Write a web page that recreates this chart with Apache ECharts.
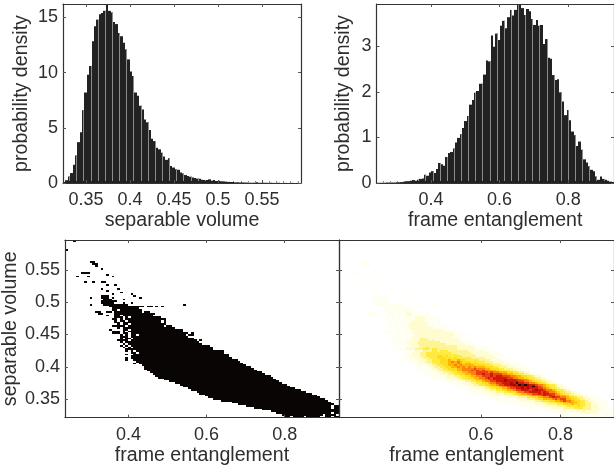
<!DOCTYPE html>
<html><head><meta charset="utf-8">
<style>html,body{margin:0;padding:0;background:#fff}#c{width:614px;height:470px}</style>
<script src="https://cdn.jsdelivr.net/npm/echarts@6/dist/echarts.min.js"></script>
</head><body><div id="c"></div>
<script>
var separableDensity=[0.1,0.25,0.6,0.9,1.65,2.5,3.7,4.6,6.6,8.2,9.8,10.6,12.85,14.2,14.8,15.3,15.4,15.6,16.3,15.6,15.45,14.6,14.4,13.6,13.3,12.7,12.1,11.2,10.1,9.7,8.2,7.9,7.0,6.65,5.75,5.5,4.8,4.0,3.8,3.2,3.05,2.75,2.4,2.1,2.25,1.55,1.4,1.25,1.2,0.95,0.85,0.72,0.63,0.57,0.5,0.45,0.4,0.38,0.3,0.27,0.27,0.33,0.2,0.27,0.18,0.2,0.15,0.15,0.12,0.1,0.08,0.08,0.06,0.06,0.05,0.05,0.04,0.04,0.03,0.03,0.03,0.06,0.02,0.02,0.02,0.02,0.01,0.02,0.01,0.01,0.02,0.01,0.01,0.01,0.01,0.01,0.01,0.01,0.01,0.01];
var entanglementDensity=[0.005,0.005,0.005,0.005,0.01,0.01,0.01,0.01,0.015,0.015,0.02,0.03,0.04,0.04,0.05,0.065,0.05,0.07,0.09,0.1,0.18,0.16,0.23,0.26,0.22,0.31,0.44,0.41,0.38,0.57,0.66,0.68,0.76,0.89,0.99,1.07,1.21,1.36,1.47,1.72,1.82,1.98,2.02,2.18,2.18,2.38,2.69,2.67,3.24,2.99,3.28,3.14,3.45,3.56,3.4,3.64,3.8,3.68,3.8,3.92,3.92,3.84,3.69,3.82,3.77,3.6,3.47,3.58,3.45,3.47,3.05,3.16,2.75,2.73,2.37,2.26,2.28,1.99,1.79,1.49,1.6,1.38,1.13,1.05,0.81,0.91,0.73,0.52,0.45,0.37,0.29,0.26,0.14,0.07,0.14,0.09,0.07,0.05,0.03,0.02];
// joint histogram runs: [row, first column, levels]; "." = empty bin
var jointRuns=[
[0,80,"00.0000.00000..00.00"],[1,79,"000000000000000.0000."],[2,77,"00000000001111110000.00"],
[3,75,"0000001011111211111000000"],[4,72,"0000000001111122222111100000"],[5,69,"0000000011112222333222111000.00"],
[6,66,"0000000011111222333343322111000.00"],[7,63,"00000000111122223344454433221100000"],[8,61,"000000001111122333445565543322110000"],
[9,57,"000000000111112233344556766544332110000"],[10,54,"00000000001111222344555676775544322110000"],[11,52,"00000000011112223344556678776654432211000"],
[12,51,"00000001111222334456667878766554322110000"],[13,49,"00000001111222344556677878877654332211000"],[14,48,"0000001112223344566778888787665433221100"],
[15,46,"0000001112233445567788878988766543321100"],[16,45,"000001112233445567788989888776543321100"],[17,43,"000001111223344566778889898a87654332110"],
[18,42,"00001112233445567788998a9a9887665433211"],[19,40,"000001112233445667788898a88776654332110"],[20,38,"0000011122334456677888988887766543322110"],
[21,36,"00000111223334556677888898887766543322110"],[22,34,"000001111223344556678788888776655443322110"],[23,33,"000000111223344556677787887776655443321100"],
[24,32,"00000111223344556677877877766554433221100"],[25,31,"00000112223344556667777676655544332211000"],[26,30,"0000011223344556667676766554433322110000"],
[27,29,"0000011223344455666676665544433222111000"],[28,29,"000011223344556565656555444332221110000"],[29,28,"00001122334455656555544443332221110000"],
[30,25,"0.00011122334445556545544433332221110000"],[31,26,"00011122333444565654443433322211110000"],[32,22,"0..00001112233344454454433333222211110000"],
[33,22,"0.0000111223334443434333332222211110000"],[34,24,"000111223333443433333222221111110000"],[35,22,"0..00111223333333333322222211111100000"],
[36,24,"00.1112233333333322222221111110000"],[37,22,"0.0.00111222332333222222211111100000"],[38,22,"00011122233233222222211111110000"],
[39,21,"0.0.11112223222222222211111100000"],[40,20,"0.0.00011122222222222221111110000"],[41,21,"0.000111222222222211111110000"],
[42,20,"0.000111122222222111111100000."],[43,19,"0000.000111222121111111110000.0"],[44,20,"0.00.0011122111111111110000."],
[45,20,"000.000111111111111110000."],[46,20,"0.0.00.01111111111111100.00"],[47,17,"000.00.000111111111111111000.0"],
[48,17,"000.0.00001111111111110000.."],[49,16,"0....00.0001111111111100000"],[50,19,"0.0000011111111100000"],
[51,17,"00000.0001111111000.00"],[52,19,"0.00.0011111100000"],[53,18,"00.00000111111100.0"],
[54,18,"0.00.000011110000.0"],[55,17,"00.0.000000111100000"],[56,18,"000.0.00001110000"],
[57,15,"0..00.00001100000"],[58,12,"00....000000011000000"],[59,11,"00..00.0000000100.00"],
[60,17,"00.00000000"],[61,17,"0000000000"],[62,16,"0000000000000.00.0.0"],
[63,9,"0"],[63,14,"000000000"],[63,43,"0"],[64,13,"00000...0..0"],[65,13,"000000"],[66,14,"000"],[66,21,"0"],
[67,9,"0"],[67,13,"000.0"],[67,27,"0"],[68,13,"000"],[68,25,"0"],[69,17,"0"],[69,24,"0"],
[70,20,"0"],[71,15,"0"],[72,13,"0"],[72,19,"0"],[74,15,"0"],[74,18,"0"],
[76,7,"0..0..00"],[79,4,"0...0"],[79,17,"0"],[80,15,"0"],[81,6,"000"],[83,13,"0"],
[85,11,"0"],[86,10,"00"],[87,9,"00"],[94,0,"0"],[99,3,"0"]
];
var hotLevels=['#fffff0','#fffcd2','#fff492','#ffea40','#ffdc1e','#ffb600','#fb8210','#ec4210','#d01a08','#a80a05','#1a0000'];
var sepTicks=[0.35,0.4,0.45,0.5,0.55], entTicksA=[0.4,0.6,0.8], entTicksB=[0.6,0.8];
var densTicksA=[0,5,10,15], densTicksB=[0,1,2,3], sepYTicks=[0.35,0.4,0.45,0.5,0.55];
var xName1='separable volume', xName2='frame entanglement', yName1='probability density';

var FONT='"Liberation Sans",Helvetica,Arial,sans-serif', TXT='#2e2e2e', LINE='#333', TICKF=18, NAMEF=19.6;
var grids=[
 {left:63,top:4,width:238,height:179},
 {left:376.5,top:4,width:237.5,height:179},
 {left:63.5,top:240,width:275.5,height:177.6},
 {left:339,top:240,width:275,height:177.6}
];
function axisPair(idx,xMin,xMax,yMin,yMax,xTicks,yTicks,xName,yName,yGap){
  var inv={show:true,inside:true,length:3,lineStyle:{color:'#555',width:1}};
  function tick(v){return Object.assign({},inv,{customValues:v});}
  var line={show:true,onZero:false,lineStyle:{color:LINE,width:1.2}};
  var none={show:false};
  var xs=[{type:'value',gridIndex:idx,position:'bottom',min:xMin,max:xMax,z:5,splitLine:none,axisLine:line,
    axisTick:tick(xTicks),axisLabel:{show:true,customValues:xTicks,margin:8,fontFamily:FONT,fontSize:TICKF,color:TXT,hideOverlap:false},
    name:xName,nameLocation:'middle',nameGap:28,nameTextStyle:{fontFamily:FONT,fontSize:NAMEF,color:TXT}},
   {type:'value',gridIndex:idx,position:'top',min:xMin,max:xMax,z:5,splitLine:none,axisLine:line,axisTick:tick(xTicks),axisLabel:none}];
  var ys=[{type:'value',gridIndex:idx,position:'left',min:yMin,max:yMax,z:5,splitLine:none,axisLine:line,axisTick:tick(yTicks),
    axisLabel:yName?{show:true,customValues:yTicks,margin:5,fontFamily:FONT,fontSize:TICKF,color:TXT,hideOverlap:false}:none,
    name:yName||'',nameLocation:'middle',nameGap:yGap,nameTextStyle:{fontFamily:FONT,fontSize:NAMEF,color:TXT}},
   {type:'value',gridIndex:idx,position:'right',min:yMin,max:yMax,z:5,splitLine:none,axisLine:line,axisTick:tick(yTicks),axisLabel:none}];
  return {xs:xs,ys:ys};
}
var A=[
 axisPair(0,0.3239,0.5943,0,16.22,sepTicks,densTicksA,xName1,yName1,31),
 axisPair(1,0.2411,0.9335,0,3.93,entTicksA,densTicksB,xName2,yName1,23),
 axisPair(2,0.2375,0.939,0.3217,0.596,entTicksA,sepYTicks,xName2,xName1,37),
 axisPair(3,0.2437,0.934,0.3217,0.596,entTicksB,sepYTicks,xName2,null,0)
];
var xAxes=[],yAxes=[],axisIdx=[];
A.forEach(function(a){axisIdx.push(xAxes.length);xAxes=xAxes.concat(a.xs);yAxes=yAxes.concat(a.ys);});

function histSeries(idx,values,start,width){
  return {type:'custom',xAxisIndex:axisIdx[idx],yAxisIndex:axisIdx[idx],clip:true,z:2,silent:true,
    encode:{x:0,y:1},
    data:values.map(function(v,i){return [start+i*width,v,i];}),
    renderItem:function(p,api){
      var a=api.coord([api.value(0),api.value(1)]), b=api.coord([api.value(0)+width,0]);
      var x0=Math.round(a[0]),x1=Math.round(b[0]),y0=a[1],h=b[1]-a[1];
      var kids=[{type:'rect',shape:{x:x0,y:y0,width:x1-x0,height:h},style:{fill:'#222222'}}];
      if(api.value(2)%3===2) kids.push({type:'rect',shape:{x:x1-1,y:y0,width:1,height:h-2},style:{fill:'#8c8c8c'}});
      return {type:'group',children:kids};
    }};
}
var jointCells=[];
jointRuns.forEach(function(run){
  for(var i=0;i<run[2].length;i++){
    if(run[2][i]==='.')continue;
    jointCells.push([0.2375+(run[1]+i)*0.00702,0.3217+run[0]*0.002743,parseInt(run[2][i],36)]);
  }
});
function jointSeries(idx,colorOf){
  return {type:'custom',xAxisIndex:axisIdx[idx],yAxisIndex:axisIdx[idx],clip:true,z:2,silent:true,
    encode:{x:0,y:1},data:jointCells,
    renderItem:function(p,api){
      var a=api.coord([api.value(0),api.value(1)+0.002743]), b=api.coord([api.value(0)+0.00702,api.value(1)]);
      var x0=Math.round(a[0]),y0=Math.round(a[1]),x1=Math.round(b[0]),y1=Math.round(b[1]);
      return {type:'rect',shape:{x:x0,y:y0,width:x1-x0,height:y1-y0},style:{fill:colorOf(api.value(2))}};
    }};
}
var chart=echarts.init(document.getElementById('c'),null,{renderer:'canvas'});
chart.setOption({
  animation:false,backgroundColor:'#fff',grid:grids,xAxis:xAxes,yAxis:yAxes,tooltip:{show:false},
  series:[
    histSeries(0,separableDensity,0.3239,0.002704),
    histSeries(1,entanglementDensity,0.2411,0.006924),
    jointSeries(2,function(){return '#0a0505';}),
    jointSeries(3,function(l){return hotLevels[l];})
  ]
});
</script></body></html>
